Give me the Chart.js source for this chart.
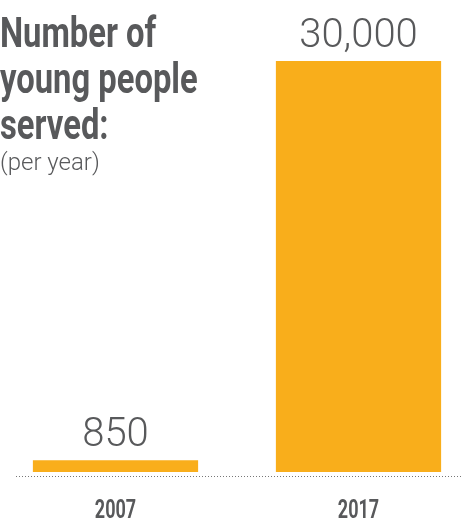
<!DOCTYPE html>
<html>
<head>
<meta charset="utf-8">
<script src="https://cdn.jsdelivr.net/npm/chart.js@4"></script>
<style>
  html, body { margin: 0; padding: 0; background: #fff; overflow: hidden; }
  #wrap { position: relative; width: 490px; height: 521px; margin-left: -10px; }
  #title {
    position: absolute; left: 10px; top: 10px; white-space: nowrap;
    font-family: Roboto, sans-serif; font-weight: bold;
    font-size: 42px; line-height: 46px; color: #58595b;
    transform: scaleX(0.78); transform-origin: 0 0;
  }
  #sub {
    position: absolute; left: 10px; top: 150px;
    font-family: Roboto, "Open Sans", sans-serif; font-weight: 300;
    font-size: 24px; line-height: 24px; color: #58595b;
  }
</style>
</head>
<body>
<div id="wrap">
  <canvas id="myChart" width="490" height="521"></canvas>
  <div id="title">Number of<br>young people<br>served:</div>
  <div id="sub">(per year)</div>
</div>
<script>
// Data
let years = ["2007", "2017"];
let served = [850, 30000];
let valueLabels = ["850", "30,000"];

let grey = "#58595b";
let orange = "#f9ae1b";

// Value labels, year labels and dotted baseline
let extras = {
  id: "extras",
  afterDatasetsDraw(chart) {
    let ctx = chart.ctx;
    let meta = chart.getDatasetMeta(0);
    let xScale = chart.scales.x;
    let bottom = chart.chartArea.bottom;
    ctx.save();
    ctx.fillStyle = grey;
    ctx.textAlign = "center";
    ctx.textBaseline = "alphabetic";
    ctx.font = "300 40px Roboto, 'Open Sans', sans-serif";
    meta.data.forEach(function (bar, i) {
      ctx.fillText(valueLabels[i], bar.x, bar.y - 14);
    });
    // year labels, condensed
    ctx.font = "bold 25px Roboto, sans-serif";
    years.forEach(function (year, i) {
      let x = xScale.getPixelForValue(i);
      ctx.save();
      ctx.translate(x, bottom + 46);
      ctx.scale(0.72, 1);
      ctx.fillText(year, 0, 0);
      ctx.restore();
    });
    // dotted line under the bars
    let y = bottom + 4;
    ctx.strokeStyle = "#777";
    ctx.lineWidth = 1;
    ctx.setLineDash([1, 2]);
    ctx.beginPath();
    ctx.moveTo(26, y + 0.5);
    ctx.lineTo(chart.width, y + 0.5);
    ctx.stroke();
    ctx.restore();
  }
};

let ctx = document.getElementById("myChart").getContext("2d");
let chart = new Chart(ctx, {
  type: "bar",
  data: {
    labels: years,
    datasets: [{
      data: served,
      backgroundColor: orange,
      borderWidth: 0,
      barPercentage: 0.68,
      categoryPercentage: 1
    }]
  },
  options: {
    responsive: false,
    animation: false,
    layout: { padding: { left: 4, right: 0, top: 61, bottom: 0 } },
    plugins: {
      legend: { display: false },
      tooltip: { enabled: false }
    },
    scales: {
      x: {
        grid: { display: false, drawTicks: false },
        border: { display: false },
        ticks: { display: false },
        afterFit: function (scale) { scale.height = 49; }
      },
      y: {
        display: false,
        min: 0,
        max: 30000
      }
    }
  },
  plugins: [extras]
});
</script>
</body>
</html>
